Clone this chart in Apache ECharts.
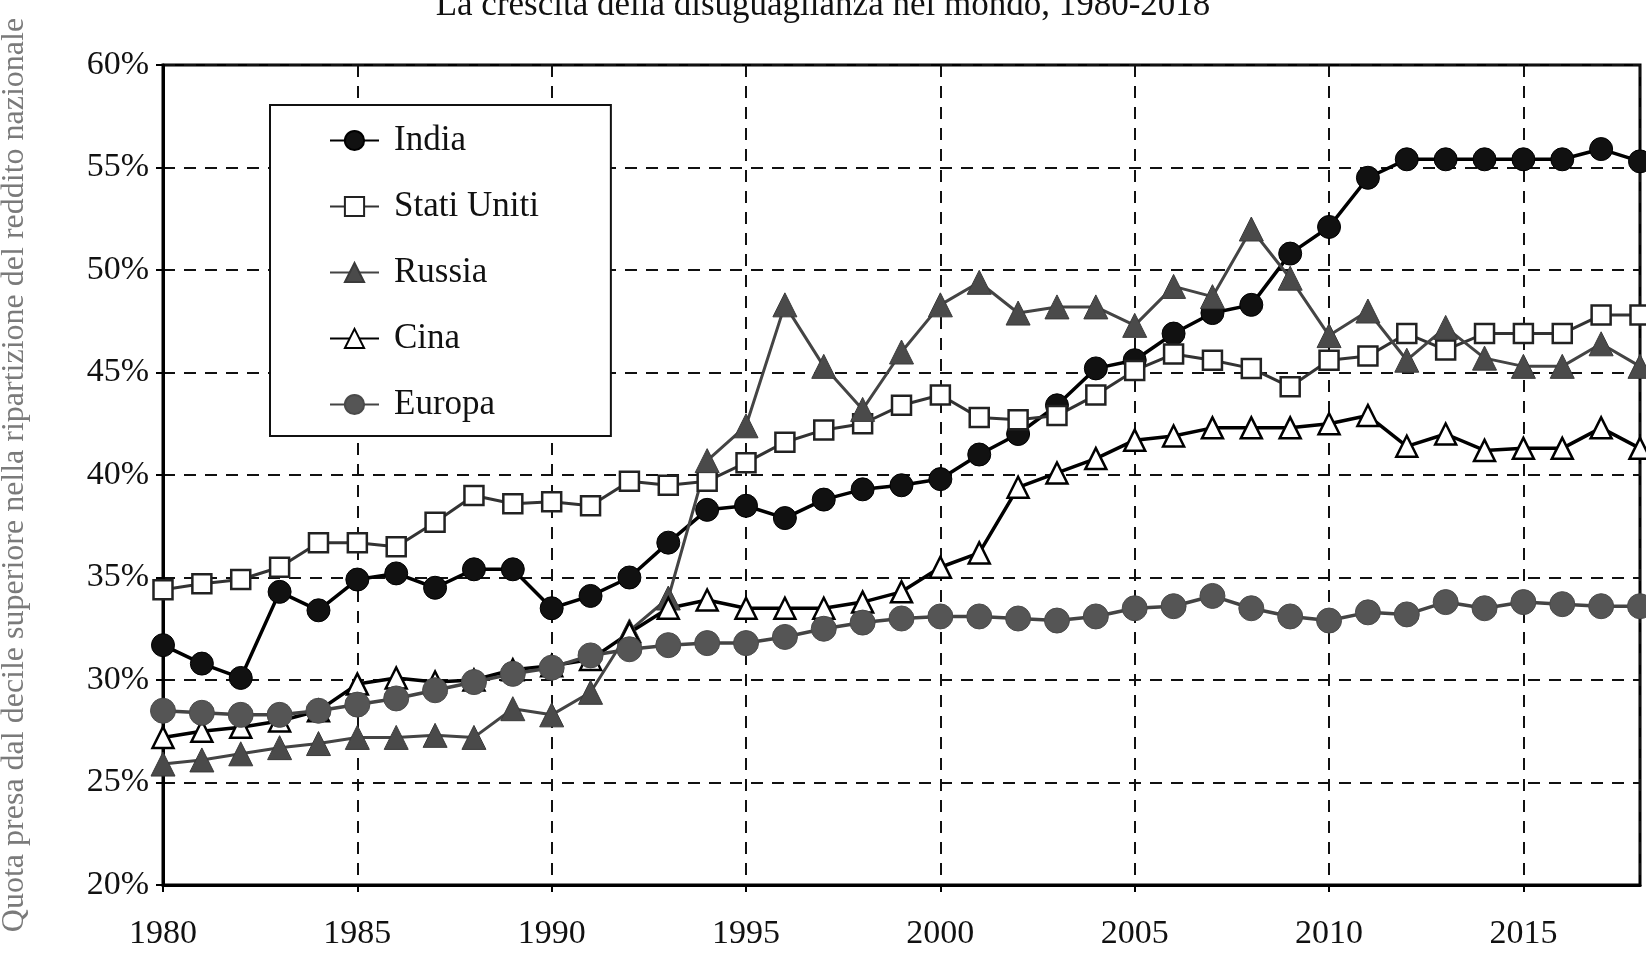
<!DOCTYPE html>
<html>
<head>
<meta charset="utf-8">
<script src="https://cdn.jsdelivr.net/npm/echarts@6/dist/echarts.min.js"></script>
<style>
html,body{margin:0;padding:0;background:#fff;}
#chart{width:1646px;height:955px;}
</style>
</head>
<body>
<div id="chart"></div>
<script>
const years = [1980,1981,1982,1983,1984,1985,1986,1987,1988,1989,1990,1991,1992,1993,1994,1995,1996,1997,1998,1999,2000,2001,2002,2003,2004,2005,2006,2007,2008,2009,2010,2011,2012,2013,2014,2015,2016,2017,2018];
const india = [31.7,30.8,30.1,34.3,33.4,34.9,35.2,34.5,35.4,35.4,33.5,34.1,35.0,36.7,38.3,38.5,37.9,38.8,39.3,39.5,39.8,41.0,42.0,43.4,45.2,45.6,46.9,47.9,48.3,50.8,52.1,54.5,55.4,55.4,55.4,55.4,55.4,55.9,55.3];
const statiUniti = [34.4,34.7,34.9,35.5,36.7,36.7,36.5,37.7,39.0,38.6,38.7,38.5,39.7,39.5,39.7,40.6,41.6,42.2,42.5,43.4,43.9,42.8,42.7,42.9,43.9,45.1,45.9,45.6,45.2,44.3,45.6,45.8,46.9,46.1,46.9,46.9,46.9,47.8,47.8];
const russia = [25.9,26.1,26.4,26.7,26.9,27.2,27.2,27.3,27.2,28.6,28.3,29.4,32.4,34.0,40.7,42.4,48.3,45.3,43.2,46.0,48.3,49.4,47.9,48.2,48.2,47.3,49.2,48.7,52.0,49.6,46.8,48.0,45.6,47.2,45.7,45.3,45.3,46.4,45.3];
const cina = [27.2,27.5,27.7,28.0,28.5,29.8,30.1,29.9,30.0,30.5,30.7,31.0,32.3,33.5,33.9,33.5,33.5,33.5,33.8,34.3,35.5,36.2,39.4,40.1,40.8,41.7,41.9,42.3,42.3,42.3,42.5,42.9,41.4,42.0,41.2,41.3,41.3,42.3,41.3];
const europa = [28.5,28.4,28.3,28.3,28.5,28.8,29.1,29.5,29.9,30.3,30.6,31.2,31.5,31.7,31.8,31.8,32.1,32.5,32.8,33.0,33.1,33.1,33.0,32.9,33.1,33.5,33.6,34.1,33.5,33.1,32.9,33.3,33.2,33.8,33.5,33.8,33.7,33.6,33.6];
const seriesNames = ['India','Stati Uniti','Russia','Cina','Europa'];
const titleText = 'La crescita della disuguaglianza nel mondo, 1980-2018';
const yAxisTitle = 'Quota presa dal decile superiore nella ripartizione del reddito nazionale';

const pairs = arr => years.map((y,i)=>[y,arr[i]]);
const FONT = '"Liberation Serif", "DejaVu Serif", serif';

const chart = echarts.init(document.getElementById('chart'), null, {renderer:'canvas'});
chart.setOption({
  animation:false,
  backgroundColor:'#fff',
  title:{
    text:titleText, left:'center', top:-17,
    textStyle:{fontFamily:FONT, fontSize:35, fontWeight:'normal', color:'#111'}
  },
  grid:{left:163, right:6, top:65, bottom:70, show:true, borderColor:'#000', borderWidth:3, backgroundColor:'transparent',
        outerBoundsMode:'none', containLabel:false},
  legend:{
    orient:'vertical', left:270, top:105,
    backgroundColor:'#fff', borderColor:'#111', borderWidth:2,
    padding:[18,72,14,59], itemGap:31, itemWidth:49, itemHeight:24,
    textStyle:{fontFamily:FONT, fontSize:35, color:'#111', padding:[0,0,0,10]},
    data:seriesNames
  },
  xAxis:{
    type:'value', min:1980, max:2018, interval:5,
    axisLine:{show:true, lineStyle:{color:'#000', width:3}},
    axisTick:{show:true, length:7, lineStyle:{color:'#000', width:2}},
    axisLabel:{showMaxLabel:false, margin:32, fontFamily:FONT, fontSize:34, color:'#111', formatter:v=>String(v)},
    splitLine:{show:true, lineStyle:{color:'#111', width:2, type:[12,9]}}
  },
  yAxis:{
    type:'value', min:20, max:60, interval:5,
    name:yAxisTitle, nameLocation:'middle', nameGap:132,
    nameTextStyle:{fontFamily:FONT, fontSize:32, color:'#7a7a7a'},
    axisLine:{show:true, lineStyle:{color:'#000', width:3}},
    axisTick:{show:true, length:7, lineStyle:{color:'#000', width:2}},
    axisLabel:{margin:14, fontFamily:FONT, fontSize:34, color:'#111', formatter:'{value}%'},
    splitLine:{show:true, lineStyle:{color:'#111', width:2, type:[12,9]}}
  },
  series:[
    {name:'India', type:'line', data:pairs(india), symbol:'circle', symbolSize:23,
     lineStyle:{color:'#000', width:3.5}, itemStyle:{color:'#111', borderColor:'#000', borderWidth:1}},
    {name:'Stati Uniti', type:'line', data:pairs(statiUniti), symbol:'rect', symbolSize:19,
     lineStyle:{color:'#333', width:3}, itemStyle:{color:'#fff', borderColor:'#222', borderWidth:2.5}},
    {name:'Russia', type:'line', data:pairs(russia), symbol:'triangle', symbolSize:24,
     lineStyle:{color:'#444', width:3}, itemStyle:{color:'#4a4a4a', borderColor:'#3a3a3a', borderWidth:1}},
    {name:'Cina', type:'line', data:pairs(cina), symbol:'triangle', symbolSize:21,
     lineStyle:{color:'#000', width:3.5}, itemStyle:{color:'#fff', borderColor:'#000', borderWidth:2.5}},
    {name:'Europa', type:'line', data:pairs(europa), symbol:'circle', symbolSize:25,
     lineStyle:{color:'#444', width:3.5}, itemStyle:{color:'#555', borderColor:'#4a4a4a', borderWidth:1}}
  ]
});
</script>
</body>
</html>
